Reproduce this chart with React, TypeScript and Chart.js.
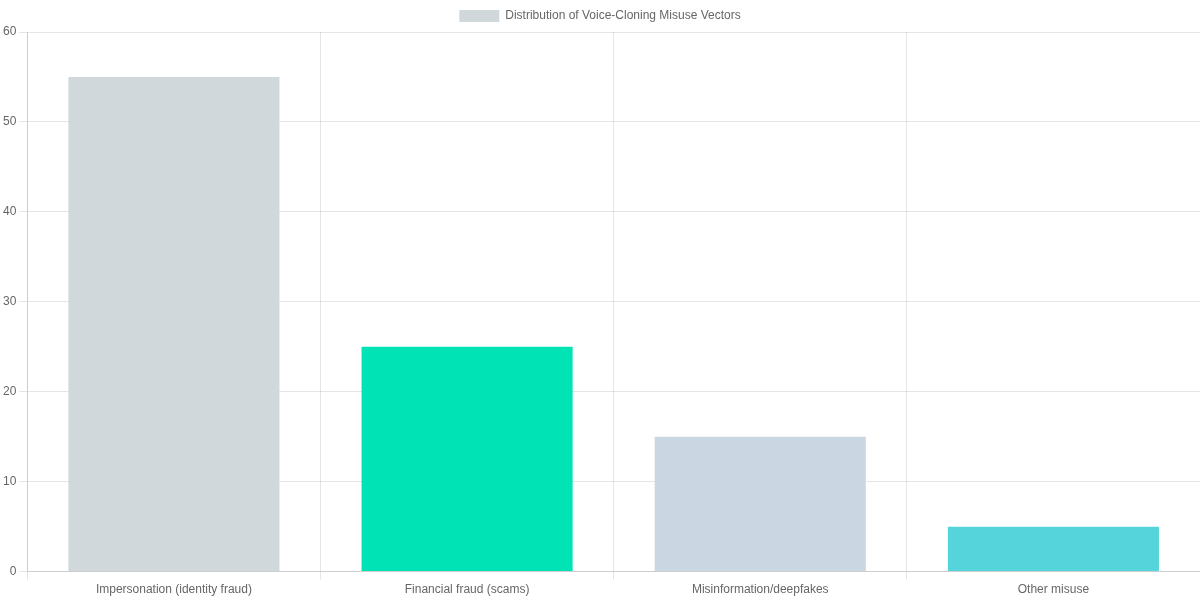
import React, { useEffect, useRef } from "react";
import { Chart, registerables } from "chart.js";

Chart.register(...registerables);

const categories = [
  "Impersonation (identity fraud)",
  "Financial fraud (scams)",
  "Misinformation/deepfakes",
  "Other misuse",
];
const values = [55, 25, 15, 5];
const barColors = ["#d1d8db", "#00e3b4", "#cbd6e3", "#55d4dc"];
const seriesLabel = "Distribution of Voice-Cloning Misuse Vectors";

export default function App() {
  const ref = useRef<HTMLCanvasElement | null>(null);

  useEffect(() => {
    document.body.style.margin = "0";
    if (!ref.current) return;
    const chart = new Chart(ref.current, {
      type: "bar",
      data: {
        labels: categories,
        datasets: [
          {
            label: seriesLabel,
            data: values,
            backgroundColor: barColors,
          },
        ],
      },
      options: {
        animation: false,
        responsive: true,
        maintainAspectRatio: false,
        scales: {
          y: {
            beginAtZero: true,
            max: 60,
            ticks: { stepSize: 10 },
          },
        },
      },
    });
    return () => chart.destroy();
  }, []);

  return (
    <div style={{ width: 1200, height: 600, position: "relative" }}>
      <canvas ref={ref} />
    </div>
  );
}
